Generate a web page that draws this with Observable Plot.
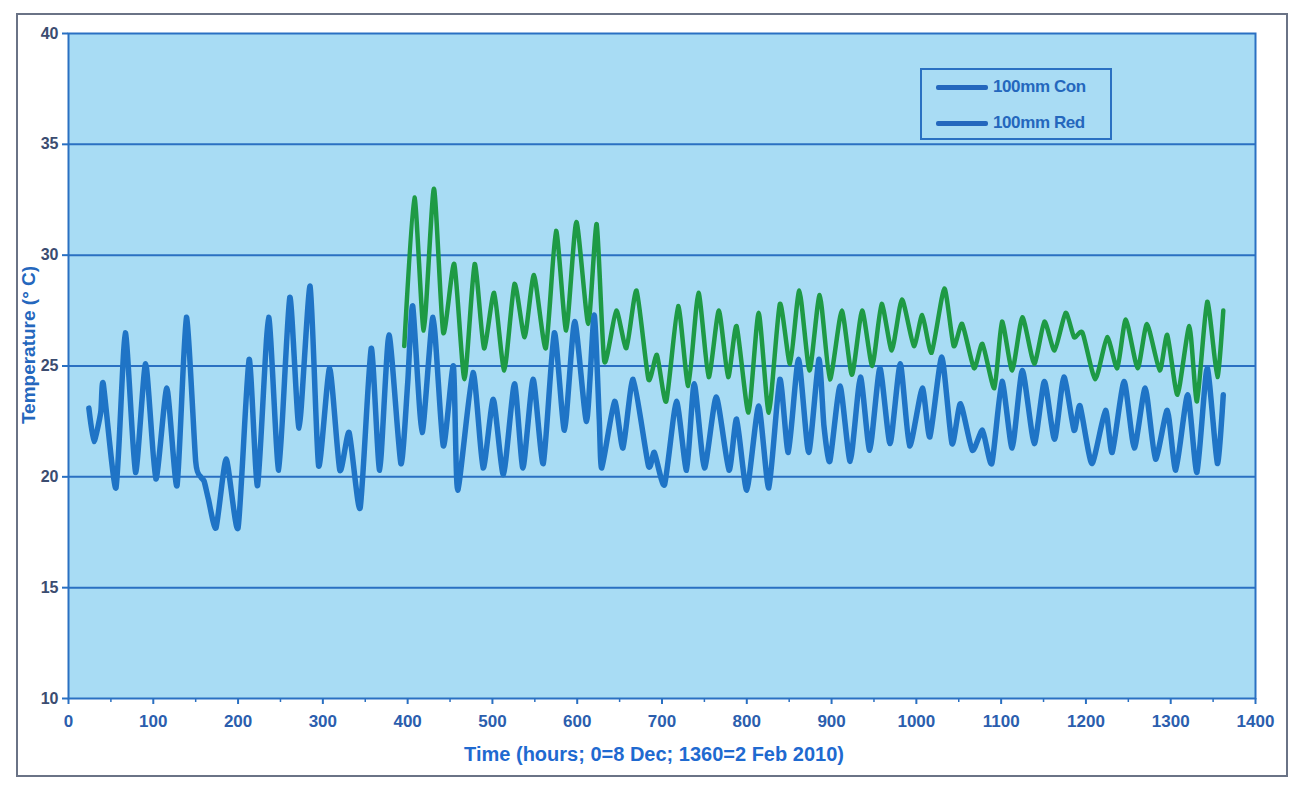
<!DOCTYPE html>
<html>
<head>
<meta charset="utf-8">
<script src="https://cdn.jsdelivr.net/npm/d3@7"></script>
<script src="https://cdn.jsdelivr.net/npm/@observablehq/plot@0.6"></script>
<style>
  html, body { margin: 0; padding: 0; background: #ffffff; }
  #wrap { position: relative; width: 1297px; height: 786px; overflow: hidden; font-family: "Liberation Sans", Arial, sans-serif; }
  #outer { position: absolute; left: 16px; top: 13px; width: 1272px; height: 764px; border: 2px solid #6a7386; box-sizing: border-box; pointer-events: none; }
  #legend { position: absolute; left: 920px; top: 68px; width: 192px; height: 72px; box-sizing: border-box;
            border: 2px solid #2a70c2; background: #a9dcf4; }
  .entry { position: absolute; left: 14px; height: 20px; display: flex; align-items: center; }
  .swatch { width: 52px; height: 5px; border-radius: 2px; margin-right: 5px; }
  .entry span { font-weight: bold; font-size: 17px; color: #2467bd; letter-spacing: -0.4px; }
</style>
</head>
<body>
<div id="wrap">
  <div id="chart"></div>
  <div id="legend"></div>
  <div id="outer"></div>
</div>
<script>
// Hourly temperature at 100 mm depth, turning points of the daily cycle
const redHours = [24, 30, 38, 41, 56, 67, 79, 91, 103, 116, 128, 139, 150, 156, 160, 165, 174, 186, 200, 213,
  223, 236, 248, 261, 272, 285, 295, 308, 320, 331, 344, 357, 367, 378, 392, 400, 406, 417, 430, 442,
  454, 459, 477, 489, 501, 513, 526, 536, 548, 560, 573, 585, 597, 611, 620, 626, 629, 644, 654, 666,
  684, 691, 703, 717, 729, 738, 750, 764, 779, 788, 800, 814, 826, 839, 849, 861, 873, 885, 891, 898,
  910, 922, 934, 945, 957, 969, 981, 992, 1007, 1016, 1030, 1042, 1052, 1066, 1078, 1089, 1101, 1113, 1125, 1139,
  1151, 1163, 1174, 1186, 1193, 1207, 1223, 1231, 1245, 1257, 1270, 1282, 1296, 1306, 1320, 1331, 1343, 1355, 1362];
const redTemps = [23.1, 21.6, 22.9, 24.2, 19.5, 26.5, 20.2, 25.1, 19.9, 24.0, 19.6, 27.2, 20.7, 20.0, 19.8, 19.0, 17.7, 20.8, 17.7, 25.3,
  19.6, 27.2, 20.3, 28.1, 22.2, 28.6, 20.5, 24.9, 20.3, 22.0, 18.6, 25.8, 20.3, 26.4, 20.6, 24.2, 27.7, 22.0, 27.2, 21.4,
  25.0, 19.4, 24.7, 20.4, 23.5, 20.1, 24.2, 20.4, 24.4, 20.6, 26.5, 22.1, 27.0, 22.5, 27.3, 22.6, 20.4, 23.4, 21.3, 24.4,
  20.5, 21.1, 19.65, 23.4, 20.3, 24.2, 20.4, 23.6, 20.3, 22.6, 19.4, 23.2, 19.5, 24.4, 21.1, 25.3, 21.1, 25.3, 22.3, 20.7,
  24.1, 20.7, 24.5, 21.2, 24.9, 21.5, 25.1, 21.4, 24.0, 21.8, 25.4, 21.5, 23.3, 21.2, 22.1, 20.6, 24.3, 21.3, 24.8, 21.5,
  24.3, 21.7, 24.5, 22.1, 23.2, 20.6, 23.0, 21.1, 24.3, 21.3, 24.0, 20.8, 23.0, 20.3, 23.7, 20.2, 24.9, 20.6, 23.7];

const conHours = [396, 408, 419, 431, 442, 455, 467, 479, 490, 502, 514, 526, 538, 549, 563, 575, 587, 599, 613, 623,
  632, 646, 658, 670, 684, 694, 705, 719, 731, 743, 755, 767, 778, 788, 802, 814, 826, 839, 851, 862,
  874, 886, 898, 912, 924, 936, 948, 959, 971, 983, 997, 1007, 1018, 1033, 1044, 1054, 1068, 1078, 1092, 1101,
  1113, 1125, 1139, 1151, 1163, 1176, 1186, 1196, 1211, 1225, 1237, 1247, 1261, 1272, 1287, 1296, 1308, 1322, 1331, 1343,
  1355, 1362];
const conTemps = [25.9, 32.6, 26.6, 33.0, 26.5, 29.6, 24.4, 29.6, 25.8, 28.3, 24.8, 28.7, 26.3, 29.1, 25.8, 31.1, 26.6, 31.5, 26.9, 31.4,
  25.2, 27.5, 25.8, 28.4, 24.4, 25.5, 23.4, 27.7, 24.1, 28.3, 24.5, 27.5, 24.5, 26.8, 22.9, 27.4, 22.9, 27.8, 25.1, 28.4,
  24.8, 28.2, 24.4, 27.5, 24.6, 27.5, 25.0, 27.8, 25.7, 28.0, 25.9, 27.3, 25.6, 28.5, 25.9, 26.9, 24.9, 26.0, 24.0, 27.0,
  24.8, 27.2, 25.1, 27.0, 25.7, 27.4, 26.3, 26.5, 24.4, 26.3, 24.9, 27.1, 24.9, 26.9, 24.8, 26.4, 23.7, 26.8, 23.4, 27.9,
  24.5, 27.5];

const seriesNames = ["100mm Con", "100mm Red"];
const xTicks = [0, 100, 200, 300, 400, 500, 600, 700, 800, 900, 1000, 1100, 1200, 1300, 1400];
const yTicks = [10, 15, 20, 25, 30, 35, 40];
const xTitle = "Time (hours; 0=8 Dec; 1360=2 Feb 2010)";
const yTitle = "Temperature (° C)";

const red = redHours.map((h, i) => ({hour: h, temp: redTemps[i]}));
const con = conHours.map((h, i) => ({hour: h, temp: conTemps[i]}));

const plotBg = "#a8dcf4";
const gridBlue = "#2a70c2";
const redColor = "#1f74c6";
const conColor = "#1e9a45";

const chart = Plot.plot({
  width: 1297,
  height: 786,
  marginLeft: 68,
  marginRight: 42,
  marginTop: 33,
  marginBottom: 88,
  style: {background: "transparent", fontFamily: "'Liberation Sans', Arial, sans-serif", overflow: "visible"},
  x: {domain: [0, 1400]},
  y: {domain: [10, 40]},
  marks: [
    Plot.frame({fill: plotBg, stroke: null}),
    Plot.ruleY(yTicks.slice(1, -1), {stroke: gridBlue, strokeWidth: 2}),
    Plot.line(con, {x: "hour", y: "temp", stroke: conColor, strokeWidth: 4.5, curve: "cardinal", tension: 0.4, strokeLinejoin: "round"}),
    Plot.line(red, {x: "hour", y: "temp", stroke: redColor, strokeWidth: 5.5, curve: "cardinal", tension: 0.4, strokeLinejoin: "round"}),
    Plot.frame({stroke: gridBlue, strokeWidth: 2}),
    Plot.axisY(yTicks, {tickSize: 6, tickPadding: 4, stroke: gridBlue, strokeWidth: 2, fill: "#3b4c70",
      fontSize: 16, fontWeight: "bold", label: null, tickFormat: d => String(d)}),
    Plot.axisX(xTicks, {tickSize: 6, tickPadding: 10, stroke: gridBlue, strokeWidth: 2, fill: "#2b5eae",
      fontSize: 17, fontWeight: "bold", label: null, tickFormat: d => String(d)}),
    Plot.axisX(xTicks.slice(0, -1).map(d => d + 50), {tickSize: 4, stroke: gridBlue, strokeWidth: 1.5,
      tickFormat: () => "", label: null}),
    Plot.text([xTitle], {frameAnchor: "bottom", dx: -8, dy: 62, fill: "#1f6ad0", fontSize: 20,
      fontWeight: "bold", text: d => d}),
    Plot.text([yTitle], {frameAnchor: "left", dx: -40, dy: -21, rotate: -90, textAnchor: "middle",
      fill: "#2467bd", fontSize: 19, fontWeight: "bold", text: d => d})
  ]
});
document.getElementById("chart").appendChild(chart);

// Legend
const legend = document.getElementById("legend");
seriesNames.forEach((name, i) => {
  const row = document.createElement("div");
  row.className = "entry";
  row.style.top = (i === 0 ? 7 : 43) + "px";
  const sw = document.createElement("div");
  sw.className = "swatch";
  sw.style.background = "#2467bd";
  const label = document.createElement("span");
  label.textContent = name;
  row.appendChild(sw);
  row.appendChild(label);
  legend.appendChild(row);
});
</script>
</body>
</html>
